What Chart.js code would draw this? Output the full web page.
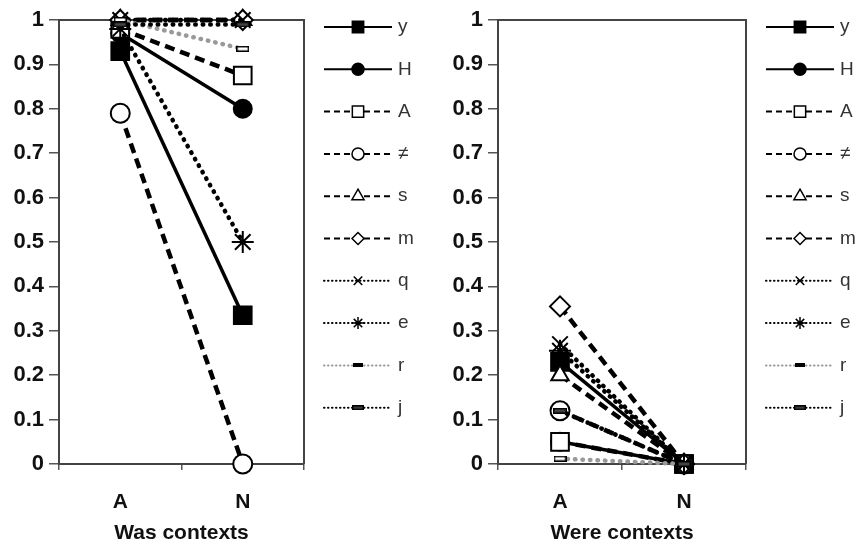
<!DOCTYPE html>
<html>
<head>
<meta charset="utf-8">
<script src="https://cdn.jsdelivr.net/npm/chart.js@4"></script>
<style>
html, body { margin: 0; padding: 0; background: #fff; }
#wrap { position: relative; width: 859px; height: 544px; }
#was { position: absolute; left: 0; top: 0; }
#were { position: absolute; left: 440px; top: 0; }
</style>
</head>
<body>
<div id="wrap">
    <canvas id="was" width="430" height="544"></canvas>
    <canvas id="were" width="419" height="544"></canvas>
</div>
<script>
// data
const categories = ['A', 'N']
const seriesNames = ['y', 'H', 'A', '≠', 's', 'm', 'q', 'e', 'r', 'j']
const wasAtA = [0.93, 0.97, 0.98, 0.79, 1, 1, 1, 0.98, 1, 0.99]
const wasAtN = [0.335, 0.80, 0.875, 0, 1, 1, 1, 0.5, 0.935, 0.99]
const wereAtA = [0.23, 0.05, 0.05, 0.12, 0.20, 0.355, 0.27, 0.255, 0.012, 0.12]
const wereAtN = [0, 0, 0, 0, 0, 0, 0, 0, 0, 0]
const yTickLabels = ['0', '0.1', '0.2', '0.3', '0.4', '0.5', '0.6', '0.7', '0.8', '0.9', '1']

const FONT = "'Liberation Sans', Arial, sans-serif"

function makeBar(w, h, fill) {
    let c = document.createElement('canvas')
    c.width = w
    c.height = h
    let x = c.getContext('2d')
    x.fillStyle = fill
    x.fillRect(0, 0, w, h)
    x.strokeStyle = '#000'
    x.lineWidth = 1.5
    x.strokeRect(0.75, 0.75, w - 1.5, h - 1.5)
    return c
}

const solid = []
const dashed = [10, 6]
const dotted = [0.5, 7]

// line and marker look of every series
const styles = [
    { dash: solid, color: '#000', pt: 'rect', r: 12.5, fill: '#000', lr: 8, ldash: [] },
    { dash: solid, color: '#000', pt: 'circle', r: 9, fill: '#000', lr: 6, ldash: [] },
    { dash: dashed, color: '#000', pt: 'rect', r: 12.5, fill: '#fff', lr: 8, ldash: [6, 4] },
    { dash: dashed, color: '#000', pt: 'circle', r: 9.5, fill: '#fff', lr: 6, ldash: [6, 4] },
    { dash: dashed, color: '#000', pt: 'triangle', r: 10, fill: '#fff', lr: 7, ldash: [6, 4] },
    { dash: dashed, color: '#000', pt: 'rectRot', r: 10, fill: '#fff', lr: 6, ldash: [6, 4] },
    { dash: dotted, color: '#000', pt: 'crossRot', r: 11, fill: '#fff', lr: 6, ldash: [0.5, 3.5] },
    { dash: dotted, color: '#000', pt: 'star', r: 11, fill: '#fff', lr: 6, ldash: [0.5, 3.5] },
    { dash: dotted, color: '#999', pt: makeBar(13, 6, '#fff'), fill: '#fff', r: 6, lpt: makeBar(10, 4, '#000'), lr: 5, ldash: [0.5, 3.5] },
    { dash: dotted, color: '#000', pt: makeBar(14, 6, '#444'), fill: '#444', r: 6, lpt: makeBar(12, 5, '#444'), lr: 5, ldash: [0.5, 3.5] }
]

function buildDatasets(atA, atN) {
    return seriesNames.map((name, i) => {
        let st = styles[i]
        return {
            label: name,
            data: [atA[i], atN[i]],
            borderColor: st.color,
            borderWidth: st.dash === solid ? 3.5 : 4.5,
            borderDash: st.dash,
            borderCapStyle: st.dash === dotted ? 'round' : 'butt',
            pointStyle: st.pt,
            pointRadius: st.r,
            pointBackgroundColor: st.fill,
            pointBorderColor: '#000',
            pointBorderWidth: 2,
            order: seriesNames.length - i,
            clip: false,
            tension: 0
        }
    })
}

const boxAndLegend = {
    id: 'boxAndLegend',
    beforeDatasetsDraw(chart) {
        let ctx = chart.ctx
        let a = chart.chartArea
        ctx.save()
        ctx.strokeStyle = '#444'
        ctx.lineWidth = 2
        ctx.beginPath()
        ctx.moveTo(a.left, a.top)
        ctx.lineTo(a.right, a.top)
        ctx.lineTo(a.right, a.bottom)
        ctx.stroke()
        ctx.restore()
    },
    afterDraw(chart) {
        let ctx = chart.ctx
        let a = chart.chartArea
        ctx.save()
        chart.data.datasets.forEach((ds, i) => {
            let st = styles[i]
            let y = 27 + i * 42.3
            let x0 = a.right + 20
            let x1 = a.right + 88
            let xm = (x0 + x1) / 2
            ctx.setLineDash(st.ldash)
            ctx.lineCap = st.dash === dotted ? 'round' : 'butt'
            ctx.strokeStyle = st.color
            ctx.lineWidth = 2
            ctx.beginPath()
            ctx.moveTo(x0, y)
            ctx.lineTo(x1, y)
            ctx.stroke()
            ctx.setLineDash([])
            ctx.lineCap = 'butt'
            ctx.fillStyle = st.fill
            ctx.strokeStyle = '#000'
            ctx.lineWidth = 1.5
            Chart.helpers.drawPoint(ctx, { pointStyle: st.lpt || st.pt, radius: st.lr, rotation: 0, borderWidth: 1.5 }, xm, y)
            ctx.fillStyle = '#333'
            ctx.font = '19px ' + FONT
            ctx.textBaseline = 'middle'
            ctx.textAlign = 'left'
            ctx.fillText(ds.label, x1 + 6, y)
        })
        ctx.restore()
    }
}

function makeChart(id, title, atA, atN, yWidth, rightPad) {
    return new Chart(document.getElementById(id), {
        type: 'line',
        data: { labels: categories, datasets: buildDatasets(atA, atN) },
        plugins: [boxAndLegend],
        options: {
            responsive: false,
            animation: false,
            events: [],
            layout: { padding: { top: 20, right: rightPad, bottom: 0, left: 0 } },
            plugins: { legend: { display: false }, tooltip: { enabled: false } },
            scales: {
                x: {
                    type: 'category',
                    offset: true,
                    grid: { offset: true, drawOnChartArea: false, drawTicks: true, tickLength: 6, color: '#555', lineWidth: 1.5 },
                    border: { display: true, color: '#444', width: 2 },
                    ticks: { color: '#111', padding: 20, font: { family: FONT, size: 21, weight: 'bold' } },
                    title: { display: true, text: title, color: '#111', padding: { top: 0, bottom: 0 }, font: { family: FONT, size: 21, weight: 'bold', lineHeight: 1 } },
                    afterFit: (s) => { s.height = 80 }
                },
                y: {
                    min: 0,
                    max: 1,
                    grid: { drawOnChartArea: false, drawTicks: true, tickLength: 10, color: '#555', lineWidth: 1.5 },
                    border: { display: true, color: '#444', width: 2 },
                    ticks: {
                        stepSize: 0.1,
                        padding: 5,
                        color: '#111',
                        font: { family: FONT, size: 22, weight: 'bold' },
                        callback: (v, i) => yTickLabels[i]
                    },
                    afterFit: (s) => { s.width = yWidth }
                }
            }
        }
    })
}

makeChart('was', 'Was contexts', wasAtA, wasAtN, 59, 126)
makeChart('were', 'Were contexts', wereAtA, wereAtN, 58, 113)
</script>
</body>
</html>
